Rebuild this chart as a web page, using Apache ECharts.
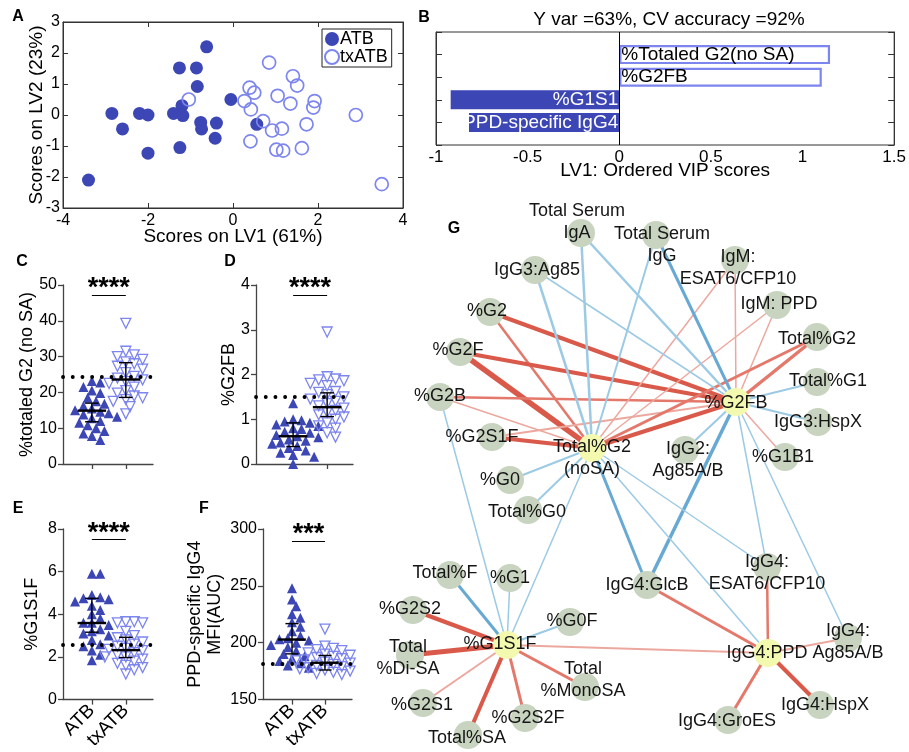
<!DOCTYPE html>
<html><head><meta charset="utf-8">
<script src="https://cdn.jsdelivr.net/npm/echarts@6/dist/echarts.min.js"></script>
<style>html,body{margin:0;padding:0;background:#fff}#c{width:909px;height:752px}</style>
</head><body><div id="c"></div>
<script>
// ---------------- Panel A: PLS-DA scores (LV1, LV2)
const scoresATB = [[-3.4,-2.1],[-2.85,0.05],[-2.6,-0.45],[-2.2,0.05],[-2.0,0.0],[-2.0,-1.23],[-1.4,0.05],[-1.2,0.3],[-1.18,-0.02],[-1.26,1.52],[-1.25,-1.05],[-0.86,1.52],[-0.84,0.92],[-0.62,2.2],[-0.76,-0.24],[-0.74,-0.45],[-0.39,-0.26],[-0.42,-0.75],[-0.05,0.5],[0.56,-0.3]];
const scoresTxATB = [[-1.04,0.5],[0.27,0.45],[0.39,0.88],[0.5,0.72],[0.42,0.18],[0.85,1.69],[0.71,-0.2],[0.41,-0.85],[0.92,-0.5],[1.15,-0.44],[1.05,0.62],[1.02,-1.12],[1.18,-1.15],[1.35,0.37],[1.41,1.25],[1.51,0.95],[1.73,-0.3],[1.62,-1.07],[1.92,0.45],[1.89,0.24],[2.89,0.0],[3.5,-2.23]];
// ---------------- Panel B: VIP scores
const vipFeatures = ['', '%Totaled G2(no SA)', '%G2FB', '%G1S1', 'PPD-specific IgG4', ' '];
const vipScores = [null, 1.15, 1.105, -0.92, -0.82, null];
// ---------------- Panels C-F: per-subject values
const cG2ATB = [23.2,22.8,21.5,20.5,19.8,18.5,17.5,16.8,16.2,15.5,15.0,14.6,14.2,13.8,13.2,12.8,12.0,11.5,10.8,10.0,9.2,8.5,7.8,6.7];
const cG2TxATB = [39.3,31.5,30.5,30.0,29.2,28.5,28.0,27.3,26.5,25.5,24.5,24.0,23.5,23.0,22.5,21.5,20.5,19.8,19.0,18.5,18.0,17.5,16.0,14.0];
const dG2FBATB = [1.36,1.0,0.98,0.95,0.92,0.88,0.85,0.8,0.78,0.72,0.7,0.65,0.62,0.6,0.55,0.52,0.48,0.45,0.4,0.36,0.3,0.25,0.2,0.16,0.0];
const dG2FBTxATB = [2.95,1.95,1.9,1.88,1.86,1.8,1.75,1.62,1.6,1.55,1.5,1.45,1.4,1.35,1.3,1.25,1.2,1.15,1.1,1.05,1.0,0.92,0.85,0.8,0.7,0.6];
const eG1S1FATB = [5.9,5.9,4.9,4.8,4.75,4.7,4.6,4.4,4.2,4.0,3.8,3.6,3.6,3.5,3.3,3.2,3.1,3.0,2.8,2.6,2.5,2.3,2.1,1.85];
const eG1S1FTxATB = [3.65,3.65,3.6,3.6,3.2,3.0,2.9,2.8,2.7,2.6,2.5,2.4,2.35,2.3,2.2,2.1,2.0,2.0,1.9,1.8,1.7,1.6,1.5,1.4,1.2];
const fIgG4ATB = [248,238,232,225,222,218,214,210,206,204,203,202,200,198,196,193,190,188,186,184,182,180,178];
const fIgG4TxATB = [212,197,195,194,193,191,190,189,188,187,186,185,184,183,182,181,180,179,178,177,176,175,174,173,172];
// median, q1, q3 per group [ATB, txATB]
const cStats = [[14.9,11.8,17.0],[23.6,18.6,28.3]];
const dStats = [[0.62,0.39,0.92],[1.27,1.06,1.59]];
const eStats = [[3.59,3.16,4.75],[2.32,1.97,2.92]];
const fStats = [[202.8,190.2,216.8],[182.4,176.0,188.8]];
const thresholds = [24.3, 1.5, 2.59, 181.9];
const sigLabels = ['****','****','****','***'];
const sigLevels = [47.2, 3.78, 7.5, 289];
const groupNames = ['ATB','txATB'];
// ---------------- Panel G: correlation network
const nodeLabels = ['Total Serum\nIgA','Total Serum\nIgG','IgM:\nESAT6/CFP10','IgG3:Ag85','IgM: PPD','%G2','Total%G2','%G2F','Total%G1','%G2B','%G2FB','IgG3:HspX','%G2S1F','Total%G2\n(noSA)','IgG2:\nAg85A/B','%G1B1','%G0','Total%G0','Total%F','%G1','IgG4:GlcB','IgG4:\nESAT6/CFP10','%G2S2','%G0F','%G1S1F','Total\n%Di-SA','IgG4:PPD','IgG4:\nAg85A/B','Total\n%MonoSA','%G2S1','IgG4:HspX','%G2S2F','IgG4:GroES','Total%SA'];
const nodeX = [201,276,355,155,397,110,437,80,437,60,356,438,112,212,305,405,130,148,70,130,267,387,33,190,127,30,388,468,205,43,440,145,348,88];
const nodeY = [43,45,70,80,115,122,147,162,192,207,212,232,247,258,260,267,290,320,385,388,395,377,420,432,455,465,463,448,497,513,515,528,530,545];
const hubNodes = [10,13,24,26];
// [source, target, sign (+1 positive / -1 negative correlation), strength]
const edges = [
 [5,10,1,4],[5,13,1,2.5],[7,10,1,4],[7,13,1,5.5],[9,10,1,2.5],[9,13,1,1.5],[12,10,1,2],[12,13,1,4],
 [2,13,1,1.5],[2,10,1,1.5],[4,13,1,1.5],[4,10,1,1.5],[6,10,1,3.5],[6,13,1,3],[13,10,1,4],[15,10,1,1.5],
 [0,13,-1,2.5],[0,10,-1,2.5],[1,13,-1,2],[1,10,-1,3],[3,13,-1,2.5],[3,10,-1,1.5],[8,10,-1,2],[11,10,-1,2],
 [14,10,-1,2],[9,24,-1,1.5],[16,13,-1,2],[17,13,-1,2],[24,13,-1,1.5],[13,20,-1,3],[10,20,-1,3.5],[13,26,-1,1.5],
 [13,21,-1,1.5],[10,21,-1,1.5],[10,27,-1,1.5],[18,24,-1,3],[19,24,-1,1.5],[23,24,-1,2],
 [20,26,1,3],[21,26,1,2.5],[27,26,1,2],[30,26,1,4],[32,26,1,3],[24,26,1,2],[22,24,1,4.5],[25,24,1,5],
 [29,24,1,2],[33,24,1,4],[31,24,1,3],[28,24,1,3]
];

// ---------------- layout / style (not data)
const FONT = 'Liberation Sans, Arial, Helvetica, sans-serif';
const DARK = '#3c46b4', LIGHT = '#7d85ee';
const G = {
  A:{left:63, top:22, width:340, height:186},
  B:{left:436, top:32, width:466, height:113},
  C:{left:63, top:285, width:90, height:179},
  D:{left:256, top:285, width:97, height:179},
  E:{left:63, top:529, width:90, height:179},
  F:{left:263, top:529, width:89, height:179},
  N:{left:380, top:190, width:529, height:562}
};
const labelOffsets = [[-4,-11],[6,10],[3,8],[2,0],[2,-1],[-3,-1],[0,2],[-2,-2],[11,-1],[0,-1],[0,1],[0,0],[-10,0],[0,10],[3,10],[-2,0],[-10,0],[-1,2],[-5,-2],[0,0],[0,0],[0,6],[-3,-1],[2,-1],[-7,-1],[-2,3],[-1,0],[0,4],[-2,-7],[-1,2],[5,0],[3,0],[-1,1],[-1,3]];

const dotPanels = [
  {g:G.C, xMin:0.15, xMax:2.8, yMin:0, yMax:50, step:10, vals:[cG2ATB,cG2TxATB], stats:cStats, name:'%totaled G2 (no SA)', nameGap:26, cats:false},
  {g:G.D, xMin:-0.09, xMax:2.76, yMin:0, yMax:4, step:1, vals:[dG2FBATB,dG2FBTxATB], stats:dStats, name:'%G2FB', nameGap:17, cats:false},
  {g:G.E, xMin:0.15, xMax:2.8, yMin:0, yMax:8, step:2, vals:[eG1S1FATB,eG1S1FTxATB], stats:eStats, name:'%G1S1F', nameGap:21, cats:true},
  {g:G.F, xMin:0.12, xMax:2.82, yMin:150, yMax:300, step:50, vals:[fIgG4ATB,fIgG4TxATB], stats:fStats, name:'PPD-specific IgG4\nMFI(AUC)', nameGap:38, cats:true}
];

// beeswarm placement of points around their category (layout only, values untouched)
function swarm(vals, center, pxX, pxY) {
  const placed = [], out = [];
  const idx = vals.map((_, i) => i).sort((a, b) => vals[b] - vals[a]);
  idx.forEach(i => {
    const py = vals[i] * pxY;
    for (let k = 0; k < 80; k++) {
      const m = k === 0 ? 0 : (k % 2 ? (k + 1) / 2 : -k / 2);
      const px = m * 4.2;
      if (placed.every(p => Math.hypot(p[0] - px, p[1] - py) >= 8.3)) {
        placed.push([px, py]); out.push([center + px / pxX, vals[i]]); break;
      }
    }
  });
  return out;
}

const grid = [G.A, G.B, G.C, G.D, G.E, G.F, G.N].map(g => Object.assign({containLabel:false}, g));
grid[0].show = true; grid[0].borderColor = '#333'; grid[0].borderWidth = 1;
grid[1].show = true; grid[1].borderColor = '#333'; grid[1].borderWidth = 1;

const axLine = {onZero:false, lineStyle:{color:'#333', width:1}};
const txt = {color:'#000', fontFamily:FONT};

const xAxis = [
  {gridIndex:0, type:'value', min:-4, max:4, interval:2, axisLine:axLine, axisTick:{inside:true, length:5, lineStyle:{color:'#333'}},
   axisLabel:Object.assign({fontSize:16, margin:5}, txt), splitLine:{show:false},
   name:'Scores on LV1 (61%)', nameLocation:'middle', nameGap:19, nameMoveOverlap:false, nameTextStyle:Object.assign({fontSize:19}, txt)},
  {gridIndex:0, type:'value', position:'top', min:-4, max:4, interval:2, axisLine:axLine, axisTick:{inside:true, length:5, lineStyle:{color:'#333'}}, axisLabel:{show:false}, splitLine:{show:false}},
  {gridIndex:1, type:'value', min:-1, max:1.5, interval:0.5, axisLine:axLine, axisTick:{inside:true, length:5, lineStyle:{color:'#333'}},
   axisLabel:Object.assign({fontSize:17, margin:4}, txt), splitLine:{show:false},
   name:'LV1: Ordered VIP scores', nameLocation:'middle', nameGap:16, nameMoveOverlap:false, nameTextStyle:Object.assign({fontSize:19}, txt)}
];
const yAxis = [
  {gridIndex:0, type:'value', min:-3, max:3, interval:1, axisLine:axLine, axisTick:{inside:true, length:5, lineStyle:{color:'#333'}},
   axisLabel:Object.assign({fontSize:16, margin:3}, txt), splitLine:{show:false},
   name:'Scores on LV2 (23%)', nameLocation:'middle', nameGap:17, nameMoveOverlap:false, nameTextStyle:Object.assign({fontSize:19}, txt)},
  {gridIndex:0, type:'value', position:'right', min:-3, max:3, interval:1, axisLine:axLine, axisTick:{inside:true, length:5, lineStyle:{color:'#333'}}, axisLabel:{show:false}, splitLine:{show:false}},
  {gridIndex:1, type:'category', data:vipFeatures, inverse:true, boundaryGap:false, axisLine:axLine, axisTick:{inside:true, length:6, lineStyle:{color:'#333'}}, axisLabel:{show:false}, splitLine:{show:false}},
  {gridIndex:1, type:'category', position:'right', data:vipFeatures, inverse:true, boundaryGap:false, axisLine:axLine, axisTick:{inside:true, length:6, lineStyle:{color:'#333'}}, axisLabel:{show:false}, splitLine:{show:false}}
];

const series = [
  {name:'ATB', type:'scatter', xAxisIndex:0, yAxisIndex:0, data:scoresATB, symbol:'circle', symbolSize:13, itemStyle:{color:DARK, opacity:1}},
  {name:'txATB', type:'scatter', xAxisIndex:0, yAxisIndex:0, data:scoresTxATB, symbol:'circle', symbolSize:13, itemStyle:{color:'rgba(255,255,255,0)', borderColor:LIGHT, borderWidth:1.7, opacity:1}},
  {name:'VIP', type:'bar', xAxisIndex:2, yAxisIndex:2, barWidth:19,
   data: vipScores.map((v, i) => v == null ? '-' : {
     value: v,
     itemStyle: v > 0 ? {color:'#fff', borderColor:LIGHT, borderWidth:2.2} : {color:DARK},
     label: {show:true, formatter: vipFeatures[i], position: v > 0 ? 'insideLeft' : 'insideRight', distance: v > 0 ? 2 : 1,
             color: v > 0 ? '#000' : '#fff', fontSize:19, fontFamily:FONT}
   }),
   markLine:{silent:true, symbol:'none', label:{show:false}, lineStyle:{color:'#000', width:1, type:'solid'}, data:[{xAxis:0}]}}
];

dotPanels.forEach((p, k) => {
  const gi = 2 + k;
  const xi = xAxis.length, yi = yAxis.length;
  xAxis.push({gridIndex:gi, type:'value', min:p.xMin, max:p.xMax, axisLine:{onZero:false, lineStyle:{color:'#444', width:1.3}},
    axisTick:{show:true, length:5, customValues:[1,2], lineStyle:{color:'#444', width:1.3}},
    axisLabel: p.cats ? Object.assign({show:true, customValues:[1,2], formatter: v => groupNames[Math.round(v) - 1], rotate:45, fontSize:19, margin:8}, txt) : {show:false},
    splitLine:{show:false}});
  yAxis.push({gridIndex:gi, type:'value', min:p.yMin, max:p.yMax, interval:p.step, axisLine:{show:true, onZero:false, lineStyle:{color:'#444', width:1.3}},
    axisTick:{show:true, length:5, lineStyle:{color:'#444', width:1.3}},
    axisLabel:Object.assign({fontSize:16, margin:6}, txt), splitLine:{show:false},
    name:p.name, nameLocation:'middle', nameGap:p.nameGap, nameMoveOverlap:false, nameTextStyle:Object.assign({fontSize:18, lineHeight:20}, txt)});
  const pxX = p.g.width / (p.xMax - p.xMin), pxY = p.g.height / (p.yMax - p.yMin);
  series.push({name:'c' + k + 'ATB', type:'scatter', xAxisIndex:xi, yAxisIndex:yi, symbol:'triangle', symbolSize:10,
    itemStyle:{color:DARK, opacity:1}, data: swarm(p.vals[0], 1, pxX, pxY), z:2});
  series.push({name:'c' + k + 'txATB', type:'scatter', xAxisIndex:xi, yAxisIndex:yi, symbol:'triangle', symbolRotate:180, symbolSize:10,
    itemStyle:{color:'rgba(255,255,255,0)', borderColor:LIGHT, borderWidth:1.3, opacity:1}, data: swarm(p.vals[1], 2, pxX, pxY), z:2,
    markLine:{silent:true, symbol:'none', z:5, animation:false,
      data:[
        {yAxis: thresholds[k], lineStyle:{color:'#000', width:3.8, type:[0.1, 9.6], cap:'round'}, label:{show:false}},
        [{coord:[1, sigLevels[k]], lineStyle:{color:'#000', width:1.2, type:'solid'},
          label:{show:true, formatter: sigLabels[k], position:'insideMiddleTop', distance:-7, fontSize:27, fontWeight:'bold', color:'#000', fontFamily:FONT}},
         {coord:[2, sigLevels[k]]}]
      ]}});
  series.push({name:'c' + k + 'err', type:'custom', xAxisIndex:xi, yAxisIndex:yi, z:4,
    data: p.stats.map((s, j) => [j + 1, s[0], s[1], s[2]]),
    renderItem: (params, api) => {
      const x = api.value(0);
      const pm = api.coord([x, api.value(1)]), pl = api.coord([x, api.value(2)]), ph = api.coord([x, api.value(3)]);
      const u = api.size([1, 0])[0];
      const half = u * 0.42, cap = u * 0.2;
      const st = w => ({stroke:'#000', lineWidth:w});
      return {type:'group', children:[
        {type:'line', shape:{x1:pm[0]-half, y1:pm[1], x2:pm[0]+half, y2:pm[1]}, style:st(2.4)},
        {type:'line', shape:{x1:pl[0], y1:pl[1], x2:ph[0], y2:ph[1]}, style:st(1.4)},
        {type:'line', shape:{x1:pl[0]-cap, y1:pl[1], x2:pl[0]+cap, y2:pl[1]}, style:st(1.4)},
        {type:'line', shape:{x1:ph[0]-cap, y1:ph[1], x2:ph[0]+cap, y2:ph[1]}, style:st(1.4)}
      ]};
    }});
});

// network panel axes (hidden layout space)
const nxi = xAxis.length, nyi = yAxis.length;
xAxis.push({gridIndex:6, type:'value', min:0, max:G.N.width, show:false});
yAxis.push({gridIndex:6, type:'value', min:0, max:G.N.height, inverse:true, show:false});
function edgeColor(sign, w) {
  if (sign > 0) return w >= 4 ? '#d95a4a' : (w >= 2.5 ? '#e3786b' : '#eca89f');
  return w >= 3 ? '#68a9d4' : '#9ccae4';
}
series.push({
  name:'network', type:'graph', coordinateSystem:'cartesian2d', xAxisIndex:nxi, yAxisIndex:nyi, silent:true, z:3,
  data: nodeLabels.map((n, i) => ({
    name: 'n' + i, value:[nodeX[i], nodeY[i]], symbolSize:28,
    itemStyle:{color: hubNodes.includes(i) ? '#f4f9b0' : '#c8d4bf', borderWidth:0},
    label:{show:true, position:'inside', offset:labelOffsets[i], formatter:n, fontSize:18, lineHeight:22, color:'#151515', fontFamily:FONT}
  })),
  links: edges.map(e => ({source:'n' + e[0], target:'n' + e[1], lineStyle:{color:edgeColor(e[2], e[3]), width:e[3], opacity:1, curveness:0}})),
  lineStyle:{opacity:1},
  emphasis:{disabled:true}
});

const letter = (t, x, y) => ({type:'text', x, y, style:{text:t, font:'bold 16px ' + FONT, fill:'#000', textAlign:'center', textVerticalAlign:'middle', align:'center', verticalAlign:'middle'}});
const option = {
  animation:false,
  textStyle:{fontFamily:FONT},
  grid, xAxis, yAxis, series,
  legend:{data:['ATB','txATB'], left:322, top:29, orient:'vertical', itemGap:0, itemWidth:14, itemHeight:14, padding:[1,4,1,2],
          borderColor:'#222', borderWidth:1, selectedMode:false, icon:'circle', textStyle:{fontSize:18, color:'#000', fontFamily:FONT, padding:[0,0,0,-4]}},
  graphic:[
    letter('A', 18, 17), letter('B', 424, 18), letter('C', 22, 262), letter('D', 230, 262),
    letter('E', 18, 509), letter('F', 204, 509), letter('G', 454, 229),
    {type:'text', x:669, y:20, style:{text:'Y var =63%, CV accuracy =92%', font:'19px ' + FONT, fill:'#000', textAlign:'center', textVerticalAlign:'middle', align:'center', verticalAlign:'middle'}}
  ]
};
const chart = echarts.init(document.getElementById('c'), null, {renderer:'canvas'});
chart.setOption(option);
</script>
</body></html>
